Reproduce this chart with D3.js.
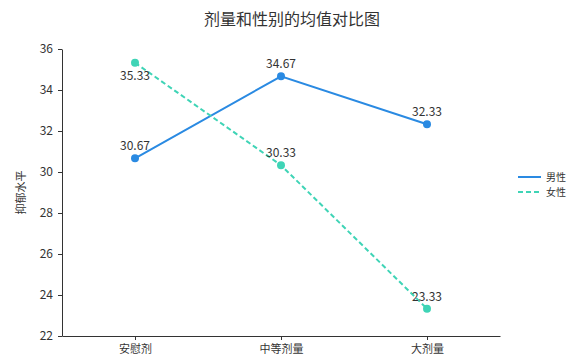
<!DOCTYPE html>
<html>
<head>
<meta charset="utf-8">
<script src="https://cdn.jsdelivr.net/npm/d3@7"></script>
<style>
  body { margin: 0; background: #fff; }
  text { font-family: "Noto Sans CJK SC", "Noto Sans", sans-serif; }
</style>
</head>
<body>
<script>
// chart data
var categories = ["安慰剂", "中等剂量", "大剂量"];
var seriesNames = ["男性", "女性"];
var maleValues = [30.67, 34.67, 32.33];
var femaleValues = [35.33, 30.33, 23.33];
var yTicks = [22, 24, 26, 28, 30, 32, 34, 36];
// label placed below the point (true) or above
var femaleLabelBelow = [true, false, false];

var w = 585;
var h = 364;

var margin = { left: 62, right: 85, top: 49, bottom: 28 };
var width = w - margin.left - margin.right;
var height = h - margin.top - margin.bottom;

var colors = { "男性": "#2a8ae2", "女性": "#3fd4b6" };

var svg = d3.select("body").append("svg")
    .attr("width", w)
    .attr("height", h);

svg.append("text")
    .attr("x", 292)
    .attr("y", 25)
    .attr("text-anchor", "middle")
    .style("font-size", "16px")
    .style("fill", "#333")
    .text("剂量和性别的均值对比图");

var g = svg.append("g")
    .attr("transform", "translate(" + margin.left + "," + margin.top + ")");

var x = d3.scalePoint()
    .domain(categories)
    .range([0, width])
    .padding(0.5);

var y = d3.scaleLinear()
    .domain([22, 36])
    .range([height, 0]);

// y axis
var yAxis = g.append("g")
    .call(d3.axisLeft(y).tickValues(yTicks).tickSize(4).tickPadding(5).tickSizeOuter(0));
yAxis.select(".domain").attr("stroke", "#333");
yAxis.selectAll("line").attr("stroke", "#333");
yAxis.selectAll("text").style("font-size", "12px").style("fill", "#333");

// x axis
var xAxis = g.append("g")
    .attr("transform", "translate(0," + height + ")")
    .call(d3.axisBottom(x).tickSize(4).tickPadding(5).tickSizeOuter(0));
xAxis.select(".domain").attr("stroke", "#333");
xAxis.selectAll("line").attr("stroke", "#333");
xAxis.selectAll("text").style("font-size", "11px").style("fill", "#333");

// y label
svg.append("text")
    .attr("transform", "translate(25," + (margin.top + height / 2) + ") rotate(-90)")
    .attr("text-anchor", "middle")
    .style("font-size", "11px")
    .style("fill", "#333")
    .text("抑郁水平");

var series = [
  { name: "男性", values: maleValues, dash: null },
  { name: "女性", values: femaleValues, dash: "5,3" }
];

var line = d3.line()
    .x(function(d, i) { return x(categories[i]); })
    .y(function(d) { return y(d); });

series.forEach(function(s) {
    g.append("path")
        .datum(s.values)
        .attr("fill", "none")
        .attr("stroke", colors[s.name])
        .attr("stroke-width", 2)
        .attr("stroke-dasharray", s.dash)
        .attr("d", line);

    g.selectAll(".pt-" + s.name)
        .data(s.values)
        .enter().append("circle")
        .attr("cx", function(d, i) { return x(categories[i]); })
        .attr("cy", function(d) { return y(d); })
        .attr("r", 4)
        .attr("fill", colors[s.name]);

    g.selectAll(".lbl-" + s.name)
        .data(s.values)
        .enter().append("text")
        .attr("x", function(d, i) { return x(categories[i]); })
        .attr("y", function(d, i) {
            var below = s.name == "女性" && femaleLabelBelow[i];
            return y(d) + (below ? 17 : -8);
        })
        .attr("text-anchor", "middle")
        .style("font-size", "12px")
        .style("fill", "#333")
        .text(function(d) { return d.toFixed(2); });
});

// legend
var legend = svg.append("g").attr("transform", "translate(518,177)");
series.forEach(function(s, i) {
    legend.append("line")
        .attr("x1", 0).attr("x2", 23)
        .attr("y1", i * 15).attr("y2", i * 15)
        .attr("stroke", colors[s.name])
        .attr("stroke-width", 2)
        .attr("stroke-dasharray", s.dash);
    legend.append("text")
        .attr("x", 28)
        .attr("y", i * 15 + 4)
        .style("font-size", "10px")
        .style("fill", "#333")
        .text(s.name);
});
</script>
</body>
</html>
